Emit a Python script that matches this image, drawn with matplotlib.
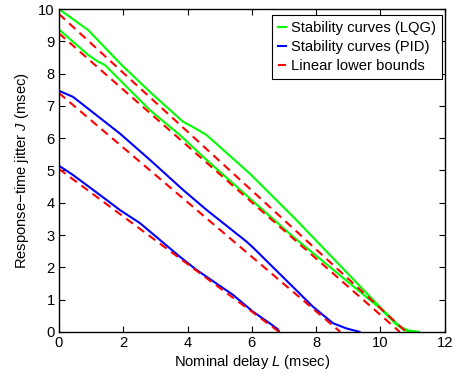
import matplotlib
matplotlib.use("Agg")
import matplotlib.pyplot as plt
import numpy as np

plt.rcParams['font.family'] = ['Liberation Sans', 'DejaVu Sans']
plt.rcParams['mathtext.fontset'] = 'custom'
plt.rcParams['mathtext.it'] = 'Liberation Sans:italic'
plt.rcParams['mathtext.rm'] = 'Liberation Sans'

# LQG stability curves
lqg1_L = [0, 0.91, 1.95, 2.88, 3.86, 4.25, 4.59, 5.93, 7.38, 10.0, 10.6, 10.85, 11.2]
lqg1_J = [10.0, 9.35, 8.27, 7.39, 6.51, 6.3, 6.1, 4.91, 3.47, 0.75, 0.17, 0.05, 0.0]
lqg2_L = [0, 0.91, 1.22, 1.43, 2.46, 2.83, 3.76, 4.59, 6.0, 7.28, 10.0, 10.5, 10.75, 11.0]
lqg2_J = [9.37, 8.58, 8.37, 8.27, 7.24, 6.87, 6.1, 5.33, 4.08, 2.95, 0.72, 0.22, 0.05, 0.0]

# PID stability curves
pid1_L = [0, 0.44, 1.89, 2.83, 3.86, 4.59, 5.83, 6.03, 7.9, 8.52, 8.93, 9.35]
pid1_J = [7.47, 7.28, 6.15, 5.33, 4.4, 3.78, 2.8, 2.62, 0.78, 0.27, 0.11, 0.0]
pid2_L = [0, 0.44, 0.86, 1.48, 1.89, 2.52, 3.14, 3.76, 4.28, 5.41, 6.03, 6.55, 6.81, 6.85]
pid2_J = [5.15, 4.86, 4.55, 4.09, 3.78, 3.37, 2.85, 2.33, 1.92, 1.15, 0.63, 0.27, 0.08, 0.0]

# Linear lower bounds: (J-intercept, L-intercept)
bound_J0 = [9.85, 9.25, 7.4, 5.05]
bound_L0 = [10.8, 10.6, 8.75, 6.85]

fig = plt.figure(figsize=(4.6, 3.78), dpi=100)
ax = fig.add_axes([0.128, 0.122, 0.839, 0.854])

lw = 1.5
fs = 10.6
ax.plot(lqg1_L, lqg1_J, color=(0, 1, 0), lw=lw, label='Stability curves (LQG)')
ax.plot(lqg2_L, lqg2_J, color=(0, 1, 0), lw=lw)
ax.plot(pid1_L, pid1_J, color=(0, 0, 1), lw=lw, label='Stability curves (PID)')
ax.plot(pid2_L, pid2_J, color=(0, 0, 1), lw=lw)
for i, (j0, l0) in enumerate(zip(bound_J0, bound_L0)):
    ax.plot([0, l0], [j0, 0], color=(1, 0, 0), lw=lw, ls=(0, (4, 2.7)),
            label='Linear lower bounds' if i == 0 else None)

ax.set_xlim(0, 12)
ax.set_ylim(0, 10)
ax.set_xticks(np.arange(0, 13, 2))
ax.set_yticks(np.arange(0, 11, 1))
ax.tick_params(direction='in', top=True, right=True, labelsize=fs, length=4, width=0.8, pad=3)
for s in ax.spines.values():
    s.set_linewidth(1.0)
ax.set_xlabel('Nominal delay $L$ (msec)', fontsize=fs, labelpad=2)
ax.set_ylabel('Response\u2212time jitter $J$ (msec)', fontsize=fs, labelpad=5)

leg = ax.legend(loc='upper right', bbox_to_anchor=(0.992, 0.981), borderaxespad=0,
                fontsize=fs, handlelength=0.5, handletextpad=0.35, labelspacing=0.33,
                borderpad=0.4, fancybox=False, framealpha=1, edgecolor='black')
leg.get_frame().set_linewidth(0.8)

fig.savefig('out.png', dpi=100)
